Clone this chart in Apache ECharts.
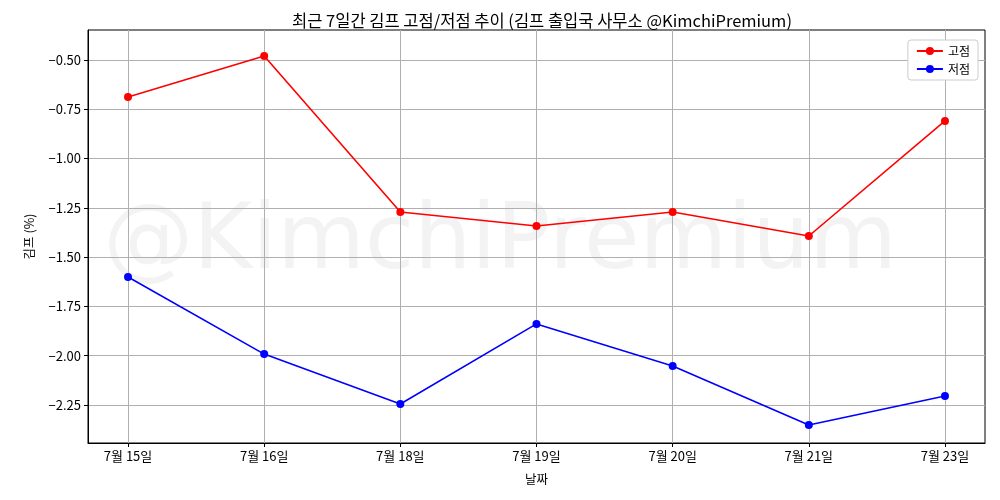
<!DOCTYPE html><html><head><meta charset="utf-8"><script src="https://cdn.jsdelivr.net/npm/echarts@6/dist/echarts.min.js"></script></head><body style="margin:0"><div id="c" style="width:1000px;height:500px"></div><script>
const categories=['7월 15일','7월 16일','7월 18일','7월 19일','7월 20일','7월 21일','7월 23일'];
const highValues=[-0.688,-0.48,-1.271,-1.342,-1.271,-1.393,-0.809];
const lowValues=[-1.601,-1.992,-2.245,-1.839,-2.052,-2.352,-2.205];
const yTicks=[-2.25,-2,-1.75,-1.5,-1.25,-1,-0.75,-0.5];
const F='"Noto Sans CJK KR"';
const ch=echarts.init(document.getElementById('c'));
const xs=categories.map((_,i)=>i);
ch.setOption({
 textStyle:{fontFamily:F},
 title:{text:'최근 7일간 김프 고점/저점 추이 (김프 출입국 사무소 @KimchiPremium)',left:537,textAlign:'center',top:7,textStyle:{fontSize:16.5,fontWeight:'normal',color:'#000',fontFamily:F}},
 graphic:[{type:'text',left:'center',top:200,silent:true,style:{text:'@KimchiPremium',font:'normal 90px "DejaVu Sans"',fill:'rgba(160,160,160,0.12)'}}],
 legend:{right:22,top:40,orient:'vertical',itemGap:6,backgroundColor:'#fff',borderColor:'#ccc',borderWidth:1,borderRadius:3,padding:[5,8],textStyle:{fontSize:12,color:'#000'},itemWidth:26,itemHeight:10,data:['고점','저점']},
 grid:{left:88,right:15,top:30,bottom:57,show:true,borderColor:'#000',borderWidth:1},
 xAxis:{type:'value',min:-0.294,max:6.294,name:'날짜',nameLocation:'middle',nameGap:30,nameTextStyle:{fontSize:12.5,color:'#000'},
  axisLine:{show:true,onZero:false,lineStyle:{color:'#000'}},axisTick:{inside:false,customValues:xs,length:4,lineStyle:{color:'#000'}},
  axisLabel:{customValues:xs,formatter:v=>categories[Math.round(v)],color:'#000',fontSize:13,margin:7},
  splitLine:{show:true,lineStyle:{color:'#b0b0b0'}}},
 yAxis:{type:'value',min:-2.443,max:-0.348,name:'김프 (%)',nameLocation:'middle',nameGap:52,nameRotate:90,nameTextStyle:{fontSize:12.5,color:'#000'},
  axisLine:{show:true,onZero:false,lineStyle:{color:'#000'}},axisTick:{inside:false,customValues:yTicks,length:4,lineStyle:{color:'#000'}},
  axisLabel:{customValues:yTicks,formatter:v=>'\u2212'+Math.abs(v).toFixed(2),color:'#000',fontSize:13,margin:7},
  splitLine:{show:true,lineStyle:{color:'#b0b0b0'}}},
 series:[
  {name:'고점',type:'line',data:highValues.map((v,i)=>[i,v]),color:'#ff0000',symbol:'circle',symbolSize:8,lineStyle:{width:1.6}},
  {name:'저점',type:'line',data:lowValues.map((v,i)=>[i,v]),color:'#0000ff',symbol:'circle',symbolSize:8,lineStyle:{width:1.6}}
 ]
});
</script></body></html>
